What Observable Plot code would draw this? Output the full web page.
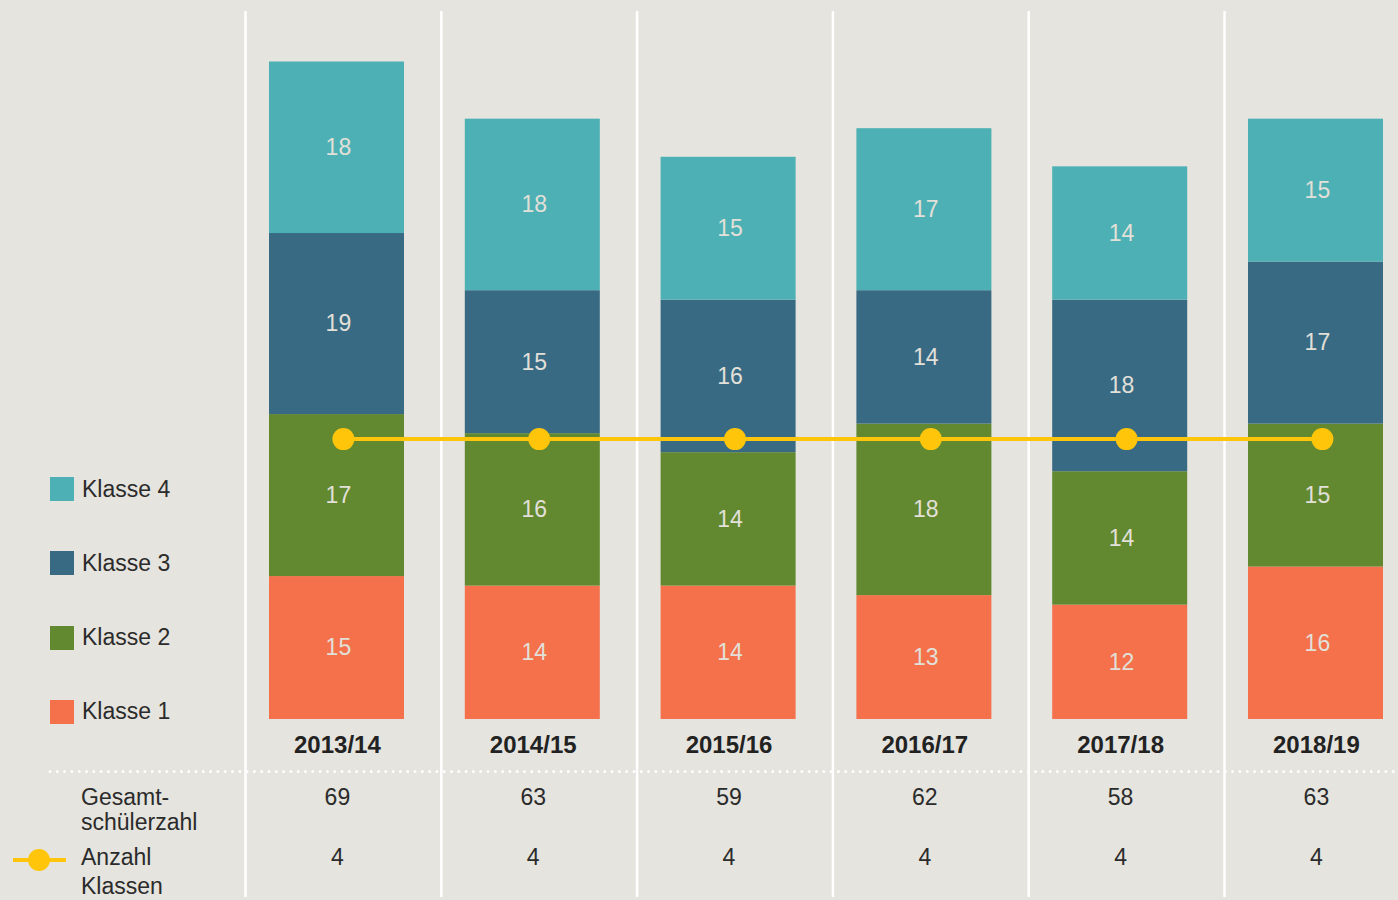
<!DOCTYPE html>
<html><head><meta charset="utf-8">
<script src="https://cdn.jsdelivr.net/npm/d3@7"></script>
<script src="https://cdn.jsdelivr.net/npm/@observablehq/plot@0.6"></script>
<style>
body{margin:0;background:#E5E4DE;font-family:"Liberation Sans",Arial,sans-serif;}
#wrap{position:relative;width:1398px;height:900px;overflow:hidden;}
#wrap svg{position:absolute;left:0;top:0;}
.leg{position:absolute;left:50px;height:24px;display:flex;align-items:center;font-size:23px;color:#2b2b2b;white-space:nowrap;}
.leg span.sw{display:inline-block;width:24px;height:24px;margin-right:8px;}
.rowh{position:absolute;left:81px;font-size:23px;color:#2b2b2b;}
</style></head><body><div id="wrap"></div>
<script>
const years = ["2013/14","2014/15","2015/16","2016/17","2017/18","2018/19"];
const klasse1 = [15,14,14,13,12,16];
const klasse2 = [17,16,14,18,14,15];
const klasse3 = [19,15,16,14,18,17];
const klasse4 = [18,18,15,17,14,15];
const gesamt = [69,63,59,62,58,63];
const anzahlKlassen = [4,4,4,4,4,4];
const classNames = ["Klasse 1","Klasse 2","Klasse 3","Klasse 4"];
const classColors = ["#F4714B","#638930","#386A84","#4DB0B4"];
const yellow = "#FFC50B";

const seriesValues = [klasse1, klasse2, klasse3, klasse4];
const rows = [];
years.forEach((y, i) => classNames.forEach((k, j) => rows.push({year: y, klasse: k, value: seriesValues[j][i]})));
const table = years.map((y, i) => ({year: y, gesamt: gesamt[i], klassen: anzahlKlassen[i]}));

// secondary scale for "Anzahl Klassen" shares the frame with the pupil axis
const yMax = 74.3, klassenMax = 10.1;
const toY = k => k * yMax / klassenMax;

const band = 195.8;
const font = '"Liberation Sans", Arial, sans-serif';

const chart = Plot.plot({
  width: 1398, height: 900,
  marginTop: 11, marginBottom: 181, marginLeft: 245, marginRight: 0,
  style: {background: "transparent", fontFamily: font},
  x: {domain: years, range: [245, 245 + band * years.length], padding: 0, round: false, axis: null},
  y: {domain: [0, yMax], axis: null},
  color: {domain: classNames, range: classColors},
  marks: [
    Plot.ruleX(years, {x: d => d, dx: -band / 2, stroke: "#fff", strokeWidth: 2.5, insetBottom: -178}),
    Plot.ruleY([0], {dy: 52, insetLeft: -195, stroke: "#fff", strokeWidth: 3, strokeDasharray: "0 7.3", strokeLinecap: "round"}),
    Plot.barY(rows, {x: "year", y: "value", fill: "klasse", insetLeft: 24, insetRight: band - 24 - 135}),
    Plot.text(rows, Plot.stackY({x: "year", y: "value", text: d => String(d.value), dx: -5, fill: "#E2E0D9", fontSize: 23})),
    Plot.line(table, {x: "year", y: d => toY(d.klassen), stroke: yellow, strokeWidth: 4}),
    Plot.dot(table, {x: "year", y: d => toY(d.klassen), r: 11, fill: yellow}),
    Plot.text(table, {x: "year", text: "year", frameAnchor: "bottom", lineAnchor: "middle", dy: 26, dx: -6, fontSize: 24, fontWeight: "bold", fill: "#222"}),
    Plot.text(table, {x: "year", text: d => String(d.gesamt), frameAnchor: "bottom", lineAnchor: "middle", dy: 78, dx: -6, fontSize: 23, fill: "#2b2b2b"}),
    Plot.text(table, {x: "year", text: d => String(d.klassen), frameAnchor: "bottom", lineAnchor: "middle", dy: 138, dx: -6, fontSize: 23, fill: "#2b2b2b"})
  ]
});
const wrap = document.getElementById("wrap");
wrap.appendChild(chart);

// legend (top to bottom: Klasse 4 .. Klasse 1)
classNames.slice().reverse().forEach((k, i) => {
  const d = document.createElement("div");
  d.className = "leg";
  d.style.top = (477 + i * 74.3) + "px";
  const sw = document.createElement("span");
  sw.className = "sw";
  sw.style.background = classColors[classNames.indexOf(k)];
  d.appendChild(sw);
  d.appendChild(document.createTextNode(k));
  wrap.appendChild(d);
});

// table row headers
const h1 = document.createElement("div");
h1.className = "rowh"; h1.style.top = "785px"; h1.style.lineHeight = "25px";
h1.innerHTML = "Gesamt-<br>schülerzahl";
wrap.appendChild(h1);
const h2 = document.createElement("div");
h2.className = "rowh"; h2.style.top = "843px"; h2.style.lineHeight = "29px";
h2.innerHTML = "Anzahl<br>Klassen";
wrap.appendChild(h2);
const ln = document.createElement("div");
Object.assign(ln.style, {position: "absolute", left: "13px", top: "858px", width: "53px", height: "4px", background: yellow});
wrap.appendChild(ln);
const dt = document.createElement("div");
Object.assign(dt.style, {position: "absolute", left: "28px", top: "849px", width: "22px", height: "22px", borderRadius: "50%", background: yellow});
wrap.appendChild(dt);
</script>
</body></html>
